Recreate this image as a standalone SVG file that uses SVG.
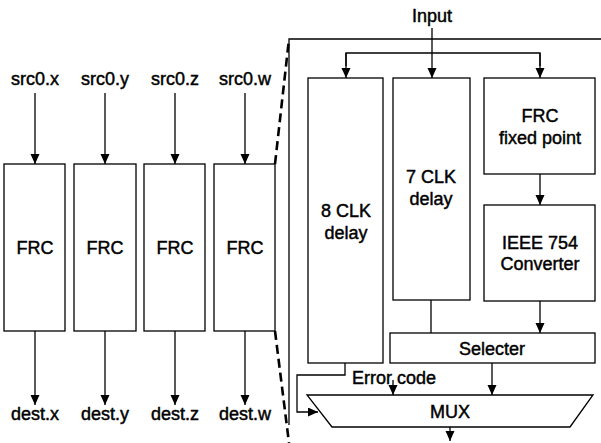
<svg xmlns="http://www.w3.org/2000/svg" width="601" height="443" viewBox="0 0 601 443">
<defs>
<marker id="ah" markerWidth="11" markerHeight="10" refX="10" refY="4.5" orient="auto" markerUnits="userSpaceOnUse">
<path d="M0,0 L10,4.5 L0,9 Z" fill="#000"/>
</marker>
<style>
.b{fill:#fff;stroke:#000;stroke-width:1.3}
.l{fill:none;stroke:#000;stroke-width:1.3}
.a{fill:none;stroke:#000;stroke-width:1.3;marker-end:url(#ah)}
.d{fill:none;stroke:#000;stroke-width:2.6;stroke-dasharray:9,5}
text{font-family:"Liberation Sans",Arial,sans-serif;font-size:18px;fill:#000;text-anchor:middle;stroke:#000;stroke-width:0.45}
</style>
</defs>
<rect width="601" height="443" fill="#fff"/>
<g id="connectors">
<line class="a" x1="35" y1="93" x2="35" y2="164"/>
<line class="a" x1="105" y1="93" x2="105" y2="164"/>
<line class="a" x1="175" y1="93" x2="175" y2="164"/>
<line class="a" x1="245" y1="93" x2="245" y2="164"/>
<line class="a" x1="35" y1="331" x2="35" y2="405"/>
<line class="a" x1="105" y1="331" x2="105" y2="405"/>
<line class="a" x1="175" y1="331" x2="175" y2="405"/>
<line class="a" x1="245" y1="331" x2="245" y2="405"/>
<line class="d" x1="275" y1="164" x2="289" y2="39"/>
<line class="d" x1="275" y1="331" x2="289" y2="443"/>
<polyline class="l" points="289,425 289,39 601,39"/>
<line class="a" x1="432" y1="28" x2="432" y2="78"/>
<polyline class="l" points="346,66 346,53 540,53 540,66"/>
<line class="a" x1="346" y1="53" x2="346" y2="78"/>
<line class="a" x1="540" y1="53" x2="540" y2="78"/>
<line class="a" x1="540" y1="174" x2="540" y2="205"/>
<line class="a" x1="540" y1="301" x2="540" y2="333"/>
<line class="l" x1="431" y1="300" x2="431" y2="333"/>
<polyline class="a" points="345,363 345,375 297,375 297,412 318,412"/>
<line class="a" x1="393" y1="380" x2="393" y2="395"/>
<line class="a" x1="492" y1="363" x2="492" y2="395"/>
<line class="a" x1="450" y1="427" x2="450" y2="441"/>
</g>
<g id="src-labels">
<text x="35" y="85">src0.x</text>
<text x="105" y="85">src0.y</text>
<text x="175" y="85">src0.z</text>
<text x="245" y="85">src0.w</text>
</g>
<g id="frc-x"><rect class="b" x="4" y="164" width="61" height="167"/><text x="35" y="254">FRC</text></g>
<g id="frc-y"><rect class="b" x="74" y="164" width="62" height="167"/><text x="105" y="254">FRC</text></g>
<g id="frc-z"><rect class="b" x="144" y="164" width="61" height="167"/><text x="175" y="254">FRC</text></g>
<g id="frc-w"><rect class="b" x="214" y="164" width="61" height="167"/><text x="245" y="254">FRC</text></g>
<g id="dest-labels">
<text x="35" y="420">dest.x</text>
<text x="105" y="420">dest.y</text>
<text x="175" y="420">dest.z</text>
<text x="245" y="420">dest.w</text>
</g>
<g id="input"><text x="432" y="22">Input</text></g>
<g id="clk8"><rect class="b" x="308" y="78" width="75" height="285"/><text x="346" y="217">8 CLK</text><text x="346" y="239">delay</text></g>
<g id="clk7"><rect class="b" x="393" y="78" width="77" height="222"/><text x="431" y="183">7 CLK</text><text x="431" y="205">delay</text></g>
<g id="frcfixed"><rect class="b" x="484" y="78" width="111" height="96"/><text x="540" y="122">FRC</text><text x="540" y="144">fixed point</text></g>
<g id="ieee"><rect class="b" x="484" y="205" width="111" height="96"/><text x="540" y="249">IEEE 754</text><text x="540" y="270">Converter</text></g>
<g id="selecter"><rect class="b" x="390" y="333" width="205" height="30"/><text x="492" y="355">Selecter</text></g>
<g id="errorcode"><text x="394" y="384">Error code</text></g>
<g id="mux"><polygon class="b" points="307,395 593,395 570,427 332,427"/><text x="450" y="418">MUX</text></g>
</svg>
